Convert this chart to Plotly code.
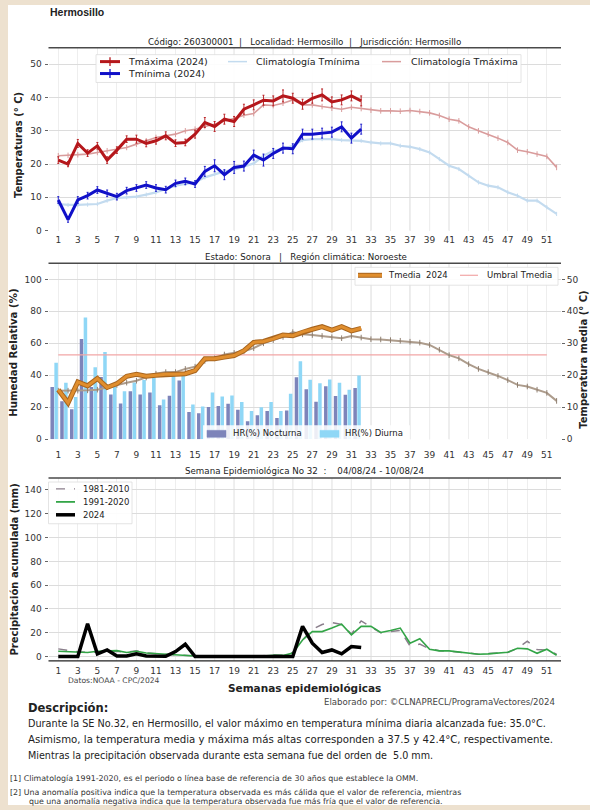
import plotly.graph_objects as go

W, H = 590, 810
FONT = "DejaVu Sans"

# ---------------- data ----------------
weeks_all = list(range(1, 53))
weeks_2024 = list(range(1, 33))
tick_weeks = list(range(1, 52, 2))

tmax_2024 = [21.2, 20.0, 26.2, 23.3, 25.5, 21.2, 24.2, 27.5, 27.5, 26.2, 27.0, 28.5, 26.3, 26.5, 29.0, 32.5,
             31.3, 33.5, 32.8, 36.5, 37.8, 39.2, 39.0, 40.5, 39.8, 38.0, 39.8, 40.8, 38.7, 39.3, 40.5, 39.0]
tmax_err = [1.0, 0.8, 1.2, 1.0, 1.0, 1.0, 1.0, 1.0, 1.2, 1.0, 1.0, 1.2, 1.0, 1.0, 1.2, 1.5,
            1.5, 1.5, 1.5, 1.5, 1.5, 1.5, 1.5, 1.8, 1.5, 1.5, 1.5, 1.8, 1.5, 1.5, 1.5, 1.5]
tmin_2024 = [9.2, 3.3, 9.2, 10.5, 12.2, 11.2, 10.2, 12.0, 12.8, 13.7, 12.8, 12.3, 14.2, 14.8, 14.0, 17.8,
             19.5, 16.8, 19.0, 19.4, 22.7, 21.2, 23.2, 24.8, 24.6, 29.0, 29.0, 29.3, 29.6, 31.2, 27.8, 30.5]
tmin_err = [1.0, 0.8, 1.0, 1.0, 1.0, 1.0, 1.0, 1.0, 1.0, 1.0, 1.0, 1.0, 1.0, 1.0, 1.0, 1.5,
            1.8, 1.5, 1.8, 1.5, 1.5, 1.8, 1.5, 1.5, 1.5, 1.5, 1.5, 1.5, 1.5, 1.5, 1.5, 1.5]
clim_tmin = [8.0, 7.7, 7.7, 7.8, 8.0, 9.0, 9.8, 10.0, 10.2, 10.8, 11.5, 12.5, 13.5, 14.0, 14.5, 16.0,
             17.0, 17.8, 18.3, 19.2, 20.2, 22.5, 24.0, 24.5, 25.5, 27.2, 27.5, 27.5, 27.5, 27.2, 27.0, 27.0,
             26.5, 26.2, 26.2, 25.5, 25.2, 24.5, 23.5, 21.5, 19.5, 18.5, 16.5, 14.5, 13.5, 13.0, 11.5, 10.5,
             9.0, 9.0, 7.0, 5.0]
clim_tmax = [22.5, 22.6, 22.8, 23.0, 23.5, 24.0, 24.3, 25.0, 26.0, 27.0, 28.0, 28.5, 29.0, 30.0, 30.5, 31.3,
             32.0, 33.0, 33.7, 34.7, 35.2, 37.8, 37.6, 38.3, 39.3, 37.8, 37.8, 37.3, 36.8, 36.5, 37.1, 36.7,
             36.2, 36.0, 36.0, 35.9, 36.1, 35.8, 35.4, 34.6, 33.5, 33.0, 31.2, 30.0, 29.0, 27.8, 26.5, 24.2,
             23.7, 23.0, 22.3, 19.0]

hr_nocturna = [32.7, 23.8, 18.8, 62.7, 32.7, 38.9, 28.0, 22.4, 30.0, 28.0, 29.3, 21.2, 27.2, 36.8, 17.0, 16.2,
               20.1, 20.8, 22.2, 18.5, 11.2, 15.0, 17.7, 13.3, 18.0, 38.8, 31.2, 23.5, 33.2, 27.0, 27.8, 32.0]
hr_diurna = [47.8, 35.4, 26.5, 76.2, 45.1, 54.5, 33.0, 30.0, 35.5, 37.0, 38.5, 24.8, 40.5, 40.0, 21.8, 20.5,
             29.3, 26.8, 27.4, 23.3, 17.6, 20.0, 23.3, 17.6, 28.5, 48.8, 37.2, 35.1, 37.4, 35.3, 30.9, 39.9]
tmedia_2024 = [15.5, 11.4, 17.9, 16.7, 19.0, 16.2, 17.4, 19.7, 20.3, 19.7, 20.0, 20.3, 20.3, 20.5, 21.5, 25.2,
               25.2, 25.7, 26.2, 27.7, 30.3, 30.6, 31.4, 32.6, 32.4, 33.6, 34.4, 35.2, 34.1, 35.2, 33.9, 34.7]
clim_tmedia = [15.2, 15.2, 15.2, 15.3, 15.5, 16.3, 17.0, 17.7, 18.3, 19.3, 20.5, 21.0, 21.0, 22.0, 22.7, 24.5,
               25.3, 26.5, 27.0, 27.5, 28.5, 30.0, 31.0, 32.0, 33.5, 32.8, 32.6, 32.3, 31.9, 31.6, 32.3, 31.8,
               31.3, 31.2, 31.0, 30.8, 30.5, 30.2, 29.5, 28.0, 26.3, 25.3, 23.5, 22.0, 21.0, 19.8, 18.5, 17.0,
               16.5, 15.5, 14.5, 12.0]
umbral_weeks = [1, 51]
umbral_tmedia = [26.4, 26.4]

precip_2024 = [0, 0, 0, 27.6, 2.3, 5.6, 0.6, 0.6, 2.3, 0.6, 0.3, 0.3, 4.2, 10.4, 0, 0,
               0, 0, 0, 0, 0, 0, 0, 0, 0, 25.4, 11.3, 3.4, 5.6, 2.3, 8.5, 7.6]
precip_9120 = [4.5, 4.0, 3.5, 3.5, 4.5, 5.0, 5.0, 3.5, 4.5, 3.0, 2.5, 1.5, 1.0, 0.8, 0.5, 0.3,
               0.3, 0.3, 0.3, 0.3, 0.3, 0.5, 1.0, 1.0, 3.0, 14.0, 21.0, 21.0, 24.0, 27.3, 18.3, 25.4,
               25.4, 20.3, 22.0, 24.0, 11.3, 15.0, 6.2, 4.8, 4.8, 3.7, 2.8, 2.0, 2.3, 2.8, 3.7, 7.0,
               6.5, 2.8, 6.2, 1.1]
precip_8110 = [6.5, 5.0, 4.0, 3.5, 4.0, 4.5, 4.5, 3.5, 5.0, 3.0, 2.5, 1.5, 1.0, 0.8, 0.5, 0.3,
               0.3, 0.3, 0.3, 0.3, 0.3, 0.8, 1.5, 1.2, 3.5, 14.0, 23.0, 27.0, 28.5, 27.0, 19.0, 30.0,
               25.0, 20.0, 21.0, 22.0, 9.0, 10.5, 6.5, 5.0, 4.5, 4.0, 3.0, 2.0, 2.5, 3.0, 3.5, 7.0,
               13.0, 6.0, 5.5, 2.0]

# ---------------- colours ----------------
C_TMAX = "#b5171b"
C_TMIN = "#1010c8"
C_CTMIN = "#c3dbef"
C_CTMAX = "#d99c9c"
C_TMED = "#e08e2e"
C_TMED_EDGE = "#a8651f"
C_CTMED = "#ad9c8c"
C_UMBRAL = "#f2a6a6"
C_NOCT = "#7d84ba"
C_DIUR = "#8fd7f6"
C_8110 = "#8b7f8c"
C_9120 = "#33a547"


def fx(px):
    return px / W


def fy(py):
    return 1 - py / H


fig = go.Figure()

# ---- top panel ----
fig.add_trace(go.Scatter(x=weeks_all, y=clim_tmin, mode="lines+markers", xaxis="x", yaxis="y",
                         line=dict(color=C_CTMIN, width=2.2),
                         marker=dict(symbol="line-ns", size=3, line=dict(color=C_CTMIN, width=1)),
                         showlegend=False))
fig.add_trace(go.Scatter(x=weeks_all, y=clim_tmax, mode="lines+markers", xaxis="x", yaxis="y",
                         line=dict(color=C_CTMAX, width=1.6),
                         marker=dict(symbol="line-ns", size=4, line=dict(color=C_CTMAX, width=1)),
                         showlegend=False))
fig.add_trace(go.Scatter(x=weeks_2024, y=tmax_2024, mode="lines", xaxis="x", yaxis="y",
                         line=dict(color=C_TMAX, width=3),
                         error_y=dict(type="data", array=tmax_err, thickness=0.9, width=1, color=C_TMAX),
                         showlegend=False))
fig.add_trace(go.Scatter(x=weeks_2024, y=tmin_2024, mode="lines", xaxis="x", yaxis="y",
                         line=dict(color=C_TMIN, width=3),
                         error_y=dict(type="data", array=tmin_err, thickness=0.9, width=1, color=C_TMIN),
                         showlegend=False))

# ---- middle panel ----
fig.add_trace(go.Bar(x=weeks_2024, y=hr_nocturna, xaxis="x2", yaxis="y2", marker_color=C_NOCT,
                     marker_line_width=0, width=0.36, offset=-0.8, showlegend=False))
fig.add_trace(go.Bar(x=weeks_2024, y=hr_diurna, xaxis="x2", yaxis="y2", marker_color=C_DIUR,
                     marker_line_width=0, width=0.36, offset=-0.4, showlegend=False))
fig.add_trace(go.Scatter(x=umbral_weeks, y=umbral_tmedia, mode="lines", xaxis="x2", yaxis="y3",
                         line=dict(color=C_UMBRAL, width=1.3), showlegend=False))
fig.add_trace(go.Scatter(x=weeks_all, y=clim_tmedia, mode="lines+markers", xaxis="x2", yaxis="y3",
                         line=dict(color=C_CTMED, width=2),
                         marker=dict(symbol="line-ns", size=4, line=dict(color="#8f7f70", width=1)),
                         showlegend=False))
fig.add_trace(go.Scatter(x=weeks_2024, y=tmedia_2024, mode="lines", xaxis="x2", yaxis="y3",
                         line=dict(color=C_TMED_EDGE, width=5), showlegend=False))
fig.add_trace(go.Scatter(x=weeks_2024, y=tmedia_2024, mode="lines", xaxis="x2", yaxis="y3",
                         line=dict(color=C_TMED, width=3), showlegend=False))

# ---- bottom panel ----
fig.add_trace(go.Scatter(x=weeks_all, y=precip_8110, mode="lines", xaxis="x3", yaxis="y4",
                         line=dict(color=C_8110, width=1.5, dash="dash"), showlegend=False))
fig.add_trace(go.Scatter(x=weeks_all, y=precip_9120, mode="lines", xaxis="x3", yaxis="y4",
                         line=dict(color=C_9120, width=1.6), showlegend=False))
fig.add_trace(go.Scatter(x=weeks_2024, y=precip_2024, mode="lines", xaxis="x3", yaxis="y4",
                         line=dict(color="#000000", width=3.5), showlegend=False))

# ---------------- axes ----------------
XDOM = [fx(48.5), fx(561)]
XRANGE = [0, 52.45]
tickfont = dict(family=FONT, size=9, color="#333")

# panel pixel positions (top line, bottom of data area)
T_TOP, T_BOT = 48, 232
M_TOP, M_BOT = 265, 442
B_TOP, B_BOT = 481, 665


def xaxis(anchor, standoff):
    return dict(domain=XDOM, range=XRANGE, anchor=anchor, tickvals=tick_weeks,
                ticks="", tickfont=tickfont, showgrid=True, gridcolor="#eeeeee", gridwidth=1,
                zeroline=False, showline=False, ticklabelstandoff=standoff)


def yaxis(dom, rng, vals, **kw):
    d = dict(domain=dom, range=rng, tickvals=vals, ticks="outside", ticklen=3, tickcolor="#666",
             tickfont=tickfont, showgrid=True, gridcolor="#dcdcdc", gridwidth=1, zeroline=False,
             showline=False, ticklabelstandoff=1)
    d.update(kw)
    return d


layout = dict(
    width=W, height=H, margin=dict(l=0, r=0, t=0, b=0),
    paper_bgcolor="#ede1cf", plot_bgcolor="rgba(0,0,0,0)",
    barmode="overlay", showlegend=False,
    xaxis=xaxis("y", 2),
    yaxis=yaxis([fy(T_BOT), fy(T_TOP)], [0, 55], [0, 10, 20, 30, 40, 50]),
    xaxis2=xaxis("y2", 9),
    yaxis2=yaxis([fy(M_BOT), fy(M_TOP)], [0, 110], [0, 20, 40, 60, 80, 100]),
    yaxis3=dict(overlaying="y2", side="right", anchor="x2", range=[0, 55], tickvals=[0, 10, 20, 30, 40, 50],
                ticks="outside", ticklen=3, tickcolor="#666", tickfont=tickfont, showgrid=False,
                zeroline=False, showline=False, ticklabelstandoff=0),
    xaxis3=xaxis("y4", 3),
    yaxis4=yaxis([fy(B_BOT), fy(B_TOP)], [-3.6, 150], [0, 20, 40, 60, 80, 100, 120, 140]),
)

shapes = []
# page
shapes.append(dict(type="rect", xref="paper", yref="paper", x0=fx(8), x1=1, y0=0, y1=fy(5),
                   fillcolor="white", line=dict(width=0), layer="below"))
# darker vertical grid lines
for w in range(17, 42, 2):
    for xa, ya in [("x", "y"), ("x2", "y2"), ("x3", "y4")]:
        shapes.append(dict(type="line", xref=xa, yref=ya + " domain", x0=w, x1=w, y0=0, y1=1,
                           line=dict(color="#d4d4d4", width=1), layer="below"))
# header lines
for py in [T_TOP, M_TOP, B_TOP]:
    shapes.append(dict(type="line", xref="paper", yref="paper", x0=XDOM[0], x1=XDOM[1], y0=fy(py), y1=fy(py),
                       line=dict(color="#4a4a4a", width=1.5)))
# bottom spine of precipitation panel
shapes.append(dict(type="line", xref="paper", yref="paper", x0=XDOM[0], x1=XDOM[1], y0=fy(B_BOT), y1=fy(B_BOT),
                   line=dict(color="#222", width=1.2)))


def pline(x0, y0, x1, y1, color, width, dash="solid"):
    shapes.append(dict(type="line", xref="paper", yref="paper", x0=fx(x0), x1=fx(x1), y0=fy(y0), y1=fy(y1),
                       line=dict(color=color, width=width, dash=dash)))


def prect(x0, y0, x1, y1, fill, line="#dddddd", lw=0.8):
    shapes.append(dict(type="rect", xref="paper", yref="paper", x0=fx(x0), x1=fx(x1), y0=fy(y1), y1=fy(y0),
                       fillcolor=fill, line=dict(color=line, width=lw)))


annotations = []


def ann(text, x, y, size, bold=False, xanchor="left", color="#222", family=FONT, angle=0):
    if bold:
        text = "<b>" + text + "</b>"
    annotations.append(dict(text=text, x=fx(x), y=fy(y), xref="paper", yref="paper", showarrow=False,
                            xanchor=xanchor, yanchor="middle", textangle=angle,
                            font=dict(family=family, size=size, color=color)))


# top legend
prect(96, 55, 521, 83, "rgba(255,255,255,0.9)")
pline(100, 62, 120, 62, C_TMAX, 3)
pline(110, 57.5, 110, 66.5, C_TMAX, 1.3)
ann("Tmáxima (2024)", 126, 62, 9.5)
pline(100, 74, 120, 74, C_TMIN, 3)
pline(110, 69.5, 110, 78.5, C_TMIN, 1.3)
ann("Tmínima (2024)", 126, 74, 9.5)
pline(228, 62, 247, 62, C_CTMIN, 1.5)
ann("Climatología Tmínima", 254, 62, 9.5)
pline(382, 62, 401, 62, C_CTMAX, 1.5)
ann("Climatología Tmáxima", 409, 62, 9.5)

# middle legends
prect(355, 269, 558, 287, "rgba(255,255,255,0.9)")
pline(358, 277, 382, 277, C_TMED_EDGE, 5)
pline(358, 277, 382, 277, C_TMED, 3)
ann("Tmedia  2024", 386, 277, 8.5)
pline(460, 277, 478, 277, C_UMBRAL, 1.2)
ann("Umbral Tmedia", 485, 277, 8.5)

prect(203, 428, 410, 443, "rgba(255,255,255,0.85)", line="rgba(0,0,0,0)", lw=0)
prect(207, 433, 226, 440, C_NOCT, line=C_NOCT, lw=0.5)
ann("HR(%) Nocturna", 231, 436, 8.5)
prect(320, 433, 339, 440, C_DIUR, line=C_DIUR, lw=0.5)
ann("HR(%) Diurna", 343, 436, 8.5)

# bottom legend
prect(48.5, 485, 132, 527, "rgba(255,255,255,0.9)")
pline(56, 492, 75, 492, C_8110, 1.3, "dash")
ann("1981-2010", 81, 492, 8.5)
pline(56, 505, 75, 505, C_9120, 1.8)
ann("1991-2020", 81, 505, 8.5)
pline(56, 518, 75, 518, "#000", 3.5)
ann("2024", 81, 518, 8.5)

# titles and texts
ann("Hermosillo", 48, 12, 10.5, bold=True, family="Liberation Sans")
ann("Código: 260300001  |   Localidad: Hermosillo  |   Jurisdicción: Hermosillo", 304, 42, 8.7, xanchor="center")
ann("Estado: Sonora   |   Región climática: Noroeste", 306, 259, 8.7, xanchor="center")
ann("Semana Epidemiológica No 32  :    04/08/24 - 10/08/24", 305, 474, 8.7, xanchor="center")

ann("Temperaturas (° C)", 18, 146, 10, bold=True, xanchor="center", angle=-90)
ann("Humedad Relativa (%)", 14, 355, 10.2, bold=True, xanchor="center", angle=-90)
ann("Temperatura media (° C)", 584, 362, 10, bold=True, xanchor="center", angle=-90)
ann("Precipitación acumulada (mm)", 14, 573, 10, bold=True, xanchor="center", angle=-90)

ann("Semanas epidemiológicas", 304, 692, 10.5, bold=True, xanchor="center")
ann("Datos:NOAA - CPC/2024", 66, 685, 7.6, color="#444")
ann("Elaborado por: ©CLNAPRECL/ProgramaVectores/2024", 557, 706, 8.6, xanchor="right", color="#444")

ann("Descripción:", 26, 712, 11.5, bold=True)
ann("Durante la SE No.32, en Hermosillo, el valor máximo en temperatura mínima diaria alcanzada fue: 35.0°C.",
    26, 728, 9.7)
ann("Asimismo, la temperatura media y máxima más altas corresponden a 37.5 y 42.4°C, respectivamente.",
    26, 744, 10.2)
ann("Mientras la precipitación observada durante esta semana fue del orden de  5.0 mm.", 26, 760, 9.6)

ann("[1] Climatología 1991-2020, es el periodo o línea base de referencia de 30 años que establece la OMM.",
    8, 783, 7.9, color="#333")
ann("[2] Una anomalía positiva indica que la temperatura observada es más cálida que el valor de referencia, mientras",
    8, 797, 7.9, color="#333")
ann("que una anomalía negativa indica que la temperatura observada fue más fría que el valor de referencia.",
    27, 806, 7.9, color="#333")

layout["shapes"] = shapes
layout["annotations"] = annotations
fig.update_layout(**layout)

fig.write_html("out.html", config={"displayModeBar": False},
               post_script="document.body.style.margin='0px';")
